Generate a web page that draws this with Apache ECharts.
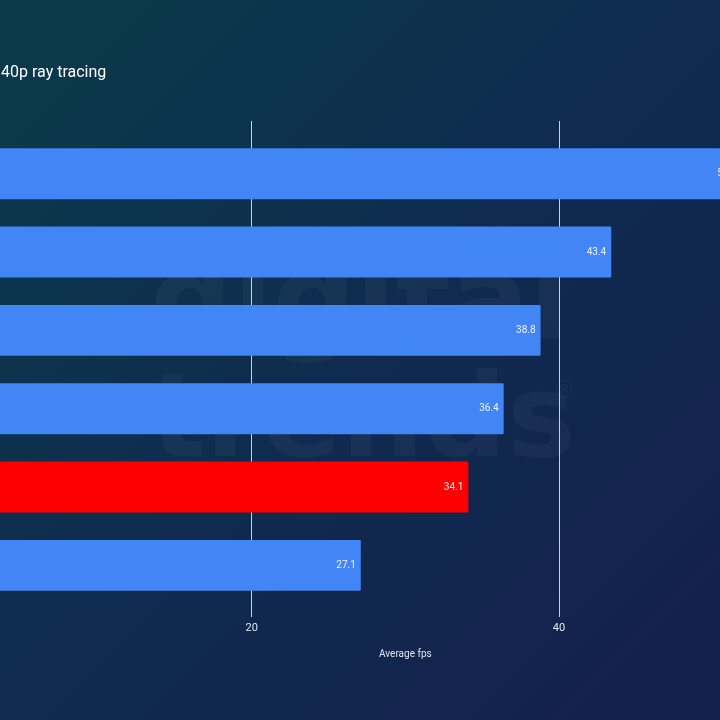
<!DOCTYPE html>
<html>
<head>
<meta charset="utf-8">
<script src="https://cdn.jsdelivr.net/npm/echarts@6/dist/echarts.min.js"></script>
<style>
  html, body { margin: 0; padding: 0; }
  #main { width: 720px; height: 720px; }
</style>
</head>
<body>
<div id="main"></div>
<script>
// data (category names sit off-screen to the left)
const categories = ['GPU 1', 'GPU 2', 'GPU 3', 'GPU 4', 'GPU 5', 'GPU 6'];
const fpsValues = [51.9, 43.4, 38.8, 36.4, 34.1, 27.1];
const barColors = ['#4285f4', '#4285f4', '#4285f4', '#4285f4', '#ff0000', '#4285f4'];
const xTicks = [0, 20, 40, 60];

const chart = echarts.init(document.getElementById('main'));

const option = {
  backgroundColor: new echarts.graphic.LinearGradient(0, 0, 1, 1, [
    { offset: 0, color: '#0a3b4a' },
    { offset: 0.5, color: '#0f2b4f' },
    { offset: 1, color: '#151f4c' }
  ]),
  title: {
    text: '40p ray tracing',
    left: -4,
    top: 60,
    textStyle: { color: '#ffffff', fontSize: 16, fontWeight: 'normal', fontFamily: 'Roboto' }
  },
  // faint watermark behind the bars
  graphic: [
    {
      type: 'text', left: 150, top: 250, silent: true,
      style: { text: 'digital', fontSize: 116, fontWeight: 'bold', fontFamily: 'DejaVu Sans', fill: 'rgba(255,255,255,0.035)' }
    },
    {
      type: 'text', left: 150, top: 368, silent: true,
      style: { text: 'trends', fontSize: 116, fontWeight: 'bold', fontFamily: 'DejaVu Sans', fill: 'rgba(255,255,255,0.035)' }
    },
    {
      type: 'text', left: 552, top: 380, silent: true,
      style: { text: '®', fontSize: 24, fontFamily: 'DejaVu Sans', fill: 'rgba(255,255,255,0.035)' }
    }
  ],
  grid: [
    // bars
    { left: -55.6, right: -146.3, top: 134.5, height: 470, outerBoundsMode: 'none', containLabel: false },
    // split lines, slightly taller than the bar area
    { left: -55.6, right: -146.3, top: 121, height: 496, outerBoundsMode: 'none', containLabel: false }
  ],
  xAxis: [
    {
      gridIndex: 0, type: 'value', min: xTicks[0], max: xTicks[xTicks.length - 1], interval: 20,
      show: false
    },
    {
      gridIndex: 1, type: 'value', min: xTicks[0], max: xTicks[xTicks.length - 1], interval: 20,
      name: 'Average fps',
      nameLocation: 'middle',
      nameGap: 32,
      nameTextStyle: { color: '#dfe6f2', fontSize: 10, fontFamily: 'Roboto' },
      axisLine: { show: false },
      axisTick: { show: false },
      axisLabel: { color: '#dfe6f2', fontSize: 11, margin: 6, fontFamily: 'Roboto' },
      splitLine: { show: true, lineStyle: { color: '#c8d0dc', width: 1 } }
    }
  ],
  yAxis: [
    {
      gridIndex: 0, type: 'category', data: categories, inverse: true,
      axisLine: { show: false }, axisTick: { show: false }, axisLabel: { show: false }
    },
    { gridIndex: 1, type: 'value', min: 0, max: 1, show: false }
  ],
  series: [{
    type: 'bar',
    xAxisIndex: 0,
    yAxisIndex: 0,
    barCategoryGap: '35%',
    data: fpsValues.map((v, i) => ({ value: v, itemStyle: { color: barColors[i] } })),
    itemStyle: { borderRadius: 1 },
    label: {
      show: true,
      position: 'insideRight',
      distance: 5,
      color: '#eef2fa',
      fontSize: 10,
      fontFamily: 'Roboto'
    },
    z: 3
  }]
};

chart.setOption(option);
</script>
</body>
</html>
